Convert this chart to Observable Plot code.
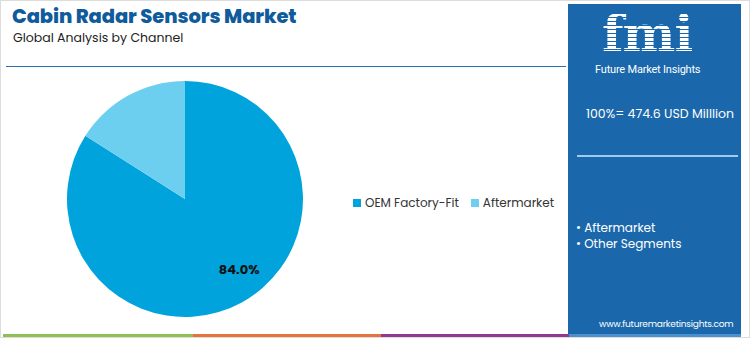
<!DOCTYPE html>
<html>
<head>
<meta charset="utf-8">
<script src="https://cdn.jsdelivr.net/npm/d3@7"></script>
<script src="https://cdn.jsdelivr.net/npm/@observablehq/plot@0.6"></script>
<style>
  html, body { margin: 0; padding: 0; background: #fff; }
  #root { position: relative; width: 750px; height: 338px; overflow: hidden; font-family: "Poppins", Inter, "Open Sans", sans-serif; box-sizing: border-box; border: 1px solid #dcdcdc; }
  .abs { position: absolute; white-space: nowrap; }
  #title { left: 11px; top: 3px; font-size: 19.5px; line-height: 26px; font-weight: 800; color: #0f5b9b; letter-spacing: -0.1px; }
  #subtitle { left: 12px; top: 29px; font-size: 12.5px; line-height: 16px; color: #222; }
  #rule { left: 5px; top: 65px; width: 560px; height: 0; border-top: 1.5px solid #2a74b4; }
  #chart { left: 34px; top: 68px; }
  #legend { left: 352px; top: 194px; font-size: 12px; line-height: 16px; color: #333; display: flex; align-items: center; }
  #legend .sw { display: inline-block; width: 8px; height: 8px; margin-right: 4px; }
  #legend .item { display: flex; align-items: center; margin-right: 12px; }
  #panel { left: 567px; top: 3px; width: 173px; height: 332px; background: #1a68ab; }
  #logo { left: 601px; top: 13px; font-size: 50px; font-weight: 900; font-family: "DejaVu Serif", serif; letter-spacing: -1px; line-height: 40px;
          background: repeating-linear-gradient(to bottom, #fff 0px, #fff 3px, #1a68ab 3px, #1a68ab 4px);
          -webkit-background-clip: text; background-clip: text; color: transparent; }
  #fmitag { left: 594px; top: 62px; font-size: 11px; line-height: 13px; color: #fff; font-family: Roboto, "Liberation Sans", sans-serif; letter-spacing: -0.2px; }
  #total { left: 585px; top: 105px; font-size: 12.5px; line-height: 16px; color: #fff; }
  #pline { left: 576px; top: 154px; width: 161px; border-top: 2px solid #9fcbee; }
  #bul { left: 575px; top: 219px; font-size: 12px; color: #fff; line-height: 16px; }
  #web { left: 598px; top: 317px; font-size: 9px; line-height: 12px; color: #fff; letter-spacing: -0.2px; }
  .bar { position: absolute; top: 333px; height: 4px; }
</style>
</head>
<body>
<div id="root">
  <div class="abs" id="title">Cabin Radar Sensors Market</div>
  <div class="abs" id="subtitle">Global Analysis by Channel</div>
  <div class="abs" id="rule"></div>
  <div class="abs" id="chart"></div>
  <div class="abs" id="legend"></div>
  <div class="abs" id="panel"></div>
  <div class="abs" id="logo">fmi</div>
  <div class="abs" id="fmitag">Future Market Insights</div>
  <div class="abs" id="total"></div>
  <div class="abs" id="pline"></div>
  <div class="abs" id="bul">• Aftermarket<br>• Other Segments</div>
  <div class="abs" id="web">www.futuremarketinsights.com</div>
  <div class="bar" style="left:2px;width:190px;background:#8dc153"></div>
  <div class="bar" style="left:192px;width:188px;background:#e6733d"></div>
  <div class="bar" style="left:380px;width:188px;background:#8e3b8f"></div>
  <div class="bar" style="left:568px;width:172px;background:#4a90cf"></div>
</div>
<script>
const categories = ["OEM Factory-Fit", "Aftermarket"];
const shares = [84.0, 16.0];
const colors = ["#00a3dc", "#6dcff0"];
const totalLabel = "100%= 474.6 USD Milllion";

document.getElementById("total").textContent = totalLabel;

const legend = document.getElementById("legend");
categories.forEach((c, i) => {
  const it = document.createElement("div");
  it.className = "item";
  it.innerHTML = `<span class="sw" style="background:${colors[i]}"></span>${c}`;
  legend.appendChild(it);
});

const slices = d3.pie().sort(null).value(d => d.value)(categories.map((c, i) => ({ category: c, value: shares[i] })));
const labelData = slices.filter(s => s.data.value >= 20).map(s => {
  const a = (s.startAngle + s.endAngle) / 2;
  return { x: 0.75 * Math.sin(a), y: 0.75 * Math.cos(a), text: s.data.value.toFixed(1) + "%" };
});

const W = 300, H = 260;
const plot = Plot.plot({
  width: W, height: H,
  margin: 0,
  marginLeft: 32, marginRight: 32, marginTop: 12, marginBottom: 12,
  x: { domain: [-1, 1], axis: null },
  y: { domain: [-1, 1], axis: null },
  color: { domain: categories, range: colors },
  marks: [
    (index, scales) => {
      const cx = scales.x(0), cy = scales.y(0);
      const r = Math.abs(scales.x(1) - scales.x(0));
      const arc = d3.arc().innerRadius(0).outerRadius(r);
      const g = d3.create("svg:g").attr("transform", `translate(${cx},${cy})`);
      g.selectAll("path").data(slices).join("path")
        .attr("d", arc)
        .attr("fill", d => scales.color(d.data.category));
      return g.node();
    },
    Plot.text(labelData, { x: "x", y: "y", text: "text", dx: 11, dy: -7, fontSize: 13, fontWeight: "bold", fill: "#111" })
  ]
});
plot.style.fontFamily = "Poppins, Inter, sans-serif";
document.getElementById("chart").appendChild(plot);
</script>
</body>
</html>
